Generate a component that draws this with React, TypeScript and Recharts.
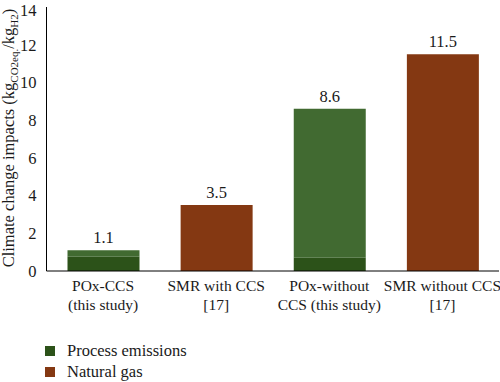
import { Bar, BarChart, LabelList, XAxis, YAxis } from "recharts";

const categoryLine1 = ["POx-CCS", "SMR with CCS", "POx-without", "SMR without CCS"];
const categoryLine2 = ["(this study)", "[17]", "CCS (this study)", "[17]"];
const processEmissions = [0.75, 0, 0.7, 0];
const processOther = [0.35, 0, 7.9, 0];
const naturalGas = [0, 3.5, 0, 11.5];
const totals = [1.1, 3.5, 8.6, 11.5];
const yTicks = [0, 2, 4, 6, 8, 10, 12, 14];

const FONT = "'Liberation Serif', 'Times New Roman', serif";
const DARK_GREEN = "#2c5219";
const LIGHT_GREEN = "#416a31";
const BROWN = "#843812";

const chartData = categoryLine1.map((name, i) => ({
  name,
  line2: categoryLine2[i],
  process: processEmissions[i],
  other: processOther[i],
  gas: naturalGas[i],
  total: totals[i],
}));

const legendItems = [
  { label: "Process emissions", color: DARK_GREEN },
  { label: "Natural gas", color: BROWN },
];

function CategoryTick(props: any) {
  const { x, y, payload, index } = props;
  return (
    <text x={x} y={y} textAnchor="middle" fontFamily={FONT} fontSize={15.5} fill="#1a1a1a">
      <tspan x={x} dy={12}>{payload.value}</tspan>
      <tspan x={x} dy={19}>{categoryLine2[index]}</tspan>
    </text>
  );
}

function YTitle() {
  const cx = 14;
  const cy = 138;
  return (
    <text
      x={cx}
      y={cy}
      transform={`rotate(-90, ${cx}, ${cy})`}
      textAnchor="middle"
      fontFamily={FONT}
      fontSize={16.5}
      fill="#1a1a1a"
    >
      Climate change impacts (kg
      <tspan fontSize={11} dy={4}>CO2eq.</tspan>
      <tspan dy={-4}>/kg</tspan>
      <tspan fontSize={11} dy={4}>H2</tspan>
      <tspan dy={-4}>)</tspan>
    </text>
  );
}

function TotalLabel(props: any) {
  const { x, y, width, value } = props;
  if (!value) return null;
  return (
    <text
      x={x + width / 2}
      y={y - 7}
      textAnchor="middle"
      fontFamily={FONT}
      fontSize={16.5}
      fill="#1a1a1a"
    >
      {value}
    </text>
  );
}

function LegendBox() {
  return (
    <div
      style={{
        position: "absolute",
        left: 45,
        top: 340,
        fontFamily: FONT,
        fontSize: 16.5,
        color: "#1a1a1a",
      }}
    >
      {legendItems.map((item) => (
        <div key={item.label} style={{ display: "flex", alignItems: "center", height: 21 }}>
          <span
            style={{
              display: "inline-block",
              width: 10,
              height: 10,
              background: item.color,
              marginRight: 12,
            }}
          />
          {item.label}
        </div>
      ))}
    </div>
  );
}

export default function App() {
  return (
    <div style={{ position: "relative", width: 500, height: 382 }}>
      <style>{"body{margin:0}"}</style>
      <BarChart
        width={500}
        height={382}
        data={chartData}
        margin={{ top: 7, right: 1, bottom: 71, left: 0 }}
      >
        <XAxis
          dataKey="name"
          axisLine={{ stroke: "#000" }}
          tickLine={false}
          tick={<CategoryTick />}
          interval={0}
          height={40}
        />
        <YAxis
          width={46.5}
          domain={[0, 14]}
          ticks={yTicks}
          axisLine={{ stroke: "#000" }}
          tickLine={false}
          tick={{ fontFamily: FONT, fontSize: 16.5, fill: "#1a1a1a" }}
          tickMargin={4}
          label={<YTitle />}
        />
        <Bar dataKey="process" stackId="a" fill={DARK_GREEN} barSize={72} isAnimationActive={false} />
        <Bar dataKey="other" stackId="a" fill={LIGHT_GREEN} barSize={72} isAnimationActive={false}>
          <LabelList dataKey="total" content={<TotalLabel />} />
        </Bar>
        <Bar dataKey="gas" stackId="a" fill={BROWN} barSize={72} isAnimationActive={false}>
          <LabelList dataKey="total" content={<TotalLabel />} />
        </Bar>
      </BarChart>
      <LegendBox />
    </div>
  );
}
